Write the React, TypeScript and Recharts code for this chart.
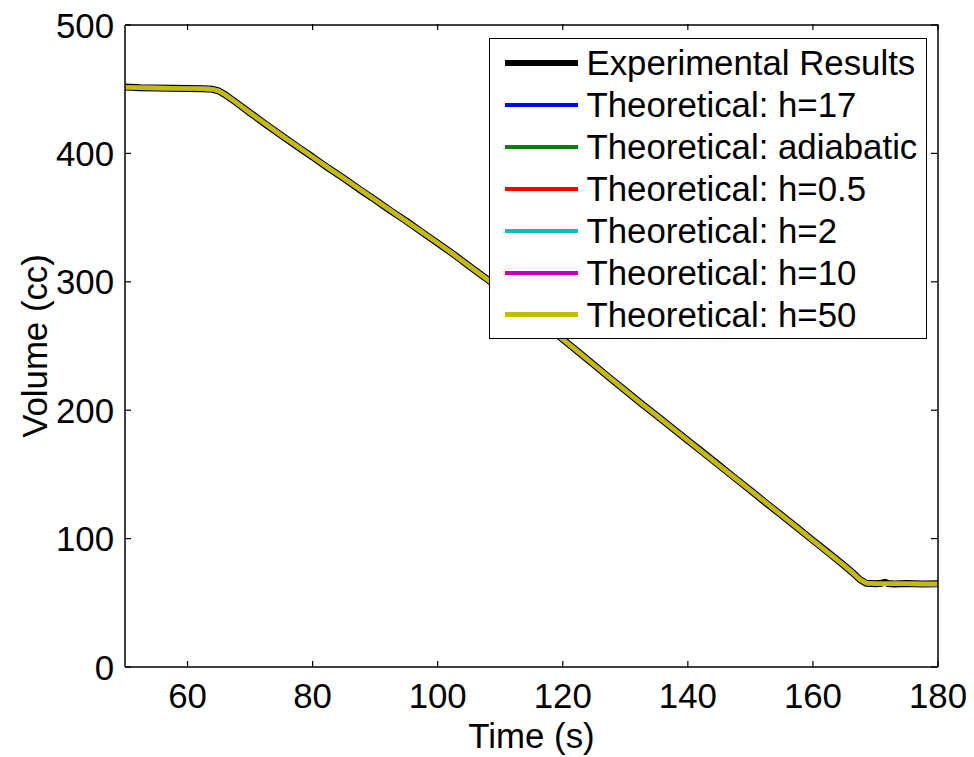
import { Legend, Line, LineChart, XAxis, YAxis } from "recharts";

const FONT = "'Liberation Sans', Arial, Helvetica, sans-serif";
const FONT_SIZE = 34.8;

// time axis (s)
const time = [
  50, 52.5, 55, 57.5, 60, 62.5, 64, 65, 66, 67.5, 70, 72.5, 75, 77.5, 80, 82.5,
  85, 87.5, 90, 92.5, 95, 97.5, 100, 102.5, 105, 107.5, 110, 112.5, 115, 117.5,
  120, 122.5, 125, 127.5, 130, 132.5, 135, 137.5, 140, 142.5, 145, 147.5, 150,
  152.5, 155, 157.5, 160, 162.5, 165, 166.5, 167.5, 168.5, 170, 171, 171.5, 172,
  173, 175, 177.5, 180
];

// measured volume (cc)
const experimentalVolume = [
  451.8, 451.2, 451.0, 450.8, 450.6, 450.3, 449.9, 448.6, 445.8, 440.6, 431.6,
  422.6, 414.0, 405.4, 397.2, 388.6, 380.5, 371.9, 363.8, 355.2, 347.3, 338.6,
  330.2, 321.6, 312.4, 303.5, 294.1, 284.6, 274.8, 265.1, 255.2, 245.4, 235.3,
  225.2, 215.3, 205.4, 195.8, 186.1, 176.4, 166.8, 157.1, 147.3, 137.6, 127.8,
  118.1, 108.4, 98.6, 88.9, 79.0, 72.8, 68.2, 65.3, 64.8, 65.3, 66.0, 65.0,
  64.7, 65.0, 64.6, 64.8
];

// all theoretical curves sit on top of each other at this scale
const theoreticalVolume = [
  451.5, 451.2, 451.0, 450.8, 450.6, 450.3, 449.9, 448.6, 445.8, 440.6, 431.6,
  422.8, 414.1, 405.6, 397.2, 388.8, 380.5, 372.1, 363.8, 355.5, 347.1, 338.7,
  330.2, 321.5, 312.4, 303.4, 294.1, 284.5, 274.8, 265.0, 255.2, 245.3, 235.3,
  225.3, 215.3, 205.5, 195.8, 186.1, 176.4, 166.7, 157.0, 147.3, 137.6, 127.9,
  118.1, 108.4, 98.6, 88.8, 79.0, 72.8, 68.2, 65.4, 64.9, 64.9, 64.9, 64.8,
  64.8, 64.8, 64.7, 64.7
];

const xTicks = [60, 80, 100, 120, 140, 160, 180];
const yTicks = [0, 100, 200, 300, 400, 500];

const series = [
  { key: "experimental", name: "Experimental Results", color: "#000000", width: 7, legendWidth: 6 },
  { key: "h17", name: "Theoretical: h=17", color: "#0000ff", width: 4.5, legendWidth: 4 },
  { key: "adiabatic", name: "Theoretical: adiabatic", color: "#008000", width: 4.5, legendWidth: 4 },
  { key: "h05", name: "Theoretical: h=0.5", color: "#ff0000", width: 4.5, legendWidth: 4 },
  { key: "h2", name: "Theoretical: h=2", color: "#00bfbf", width: 4.5, legendWidth: 4 },
  { key: "h10", name: "Theoretical: h=10", color: "#bf00bf", width: 4.5, legendWidth: 4 },
  { key: "h50", name: "Theoretical: h=50", color: "#bfbf00", width: 4.5, legendWidth: 4.5 }
];

const data = time.map((t, i) => ({
  time: t,
  experimental: experimentalVolume[i],
  h17: theoreticalVolume[i],
  adiabatic: theoreticalVolume[i],
  h05: theoreticalVolume[i],
  h2: theoreticalVolume[i],
  h10: theoreticalVolume[i],
  h50: theoreticalVolume[i]
}));

const TICK_LEN = 6;
const X_TICK_MARGIN = 28;
const Y_TICK_MARGIN = 11;

function BottomTick({ x, y, payload }: any) {
  const axisY = y - X_TICK_MARGIN;
  return (
    <g>
      <line x1={x} x2={x} y1={axisY} y2={axisY - TICK_LEN} stroke="#000" strokeWidth={1.2} />
      <text x={x} y={y} textAnchor="middle" dominantBaseline="central" fontSize={FONT_SIZE} fontFamily={FONT} fill="#000">
        {payload.value}
      </text>
    </g>
  );
}

function LeftTick({ x, y, payload }: any) {
  const axisX = x + Y_TICK_MARGIN;
  return (
    <g>
      <line x1={axisX} x2={axisX + TICK_LEN} y1={y} y2={y} stroke="#000" strokeWidth={1.2} />
      <text x={x} y={y} textAnchor="end" dominantBaseline="central" fontSize={FONT_SIZE} fontFamily={FONT} fill="#000">
        {payload.value}
      </text>
    </g>
  );
}

// top and right axes only carry the box edge and inward ticks
function TopTick({ x, y }: any) {
  return <line x1={x} x2={x} y1={y - 1} y2={y - 1 + TICK_LEN} stroke="#000" strokeWidth={1.2} />;
}

function RightTick({ x, y }: any) {
  return <line x1={x - 1} x2={x - 1 - TICK_LEN} y1={y} y2={y} stroke="#000" strokeWidth={1.2} />;
}

function XTitle({ viewBox }: any) {
  const cx = viewBox.x + viewBox.width / 2;
  return (
    <text x={cx} y={viewBox.y + 68} textAnchor="middle" dominantBaseline="central" fontSize={FONT_SIZE} fontFamily={FONT} fill="#000">
      Time (s)
    </text>
  );
}

function YTitle({ viewBox }: any) {
  const cx = 34;
  const cy = viewBox.y + viewBox.height / 2;
  return (
    <text x={cx} y={cy} transform={`rotate(-90, ${cx}, ${cy})`} textAnchor="middle" dominantBaseline="central" fontSize={FONT_SIZE} fontFamily={FONT} fill="#000">
      Volume (cc)
    </text>
  );
}

function LegendBox() {
  return (
    <div
      style={{
        boxSizing: "border-box",
        width: 438,
        height: 301,
        border: "1.5px solid #000",
        background: "#fff",
        paddingTop: 2.5,
        fontFamily: FONT,
        fontSize: FONT_SIZE,
        color: "#000"
      }}
    >
      {series.map((s) => (
        <div key={s.key} style={{ height: 42, display: "flex", alignItems: "center" }}>
          <div style={{ marginLeft: 14.5, width: 73, height: s.legendWidth, background: s.color }} />
          <span style={{ marginLeft: 9, lineHeight: "42px", whiteSpace: "nowrap" }}>{s.name}</span>
        </div>
      ))}
    </div>
  );
}

export default function App() {
  return (
    <div style={{ position: "fixed", left: 0, top: 0, width: 974, height: 757, background: "#fff" }}>
      <LineChart
        width={974}
        height={757}
        data={data}
        margin={{ top: 24, right: 35, bottom: 0, left: 0 }}
        style={{ fontFamily: FONT }}
      >
        <XAxis
          dataKey="time"
          type="number"
          domain={[50, 180]}
          ticks={xTicks}
          allowDataOverflow
          height={90}
          axisLine={{ stroke: "#000", strokeWidth: 1.5 }}
          tickLine={false}
          tickSize={0}
          tickMargin={X_TICK_MARGIN}
          tick={<BottomTick />}
          interval={0}
          label={<XTitle />}
        />
        <XAxis
          xAxisId="top"
          orientation="top"
          dataKey="time"
          type="number"
          domain={[50, 180]}
          ticks={xTicks}
          allowDataOverflow
          height={1}
          axisLine={{ stroke: "#000", strokeWidth: 1.5 }}
          tickLine={false}
          tickSize={0}
          tickMargin={0}
          tick={<TopTick />}
          interval={0}
        />
        <YAxis
          type="number"
          domain={[0, 500]}
          ticks={yTicks}
          allowDataOverflow
          width={125}
          axisLine={{ stroke: "#000", strokeWidth: 1.5 }}
          tickLine={false}
          tickSize={0}
          tickMargin={Y_TICK_MARGIN}
          tick={<LeftTick />}
          interval={0}
          label={<YTitle />}
        />
        <YAxis
          yAxisId="right"
          orientation="right"
          type="number"
          domain={[0, 500]}
          ticks={yTicks}
          allowDataOverflow
          width={1}
          axisLine={{ stroke: "#000", strokeWidth: 1.5 }}
          tickLine={false}
          tickSize={0}
          tickMargin={0}
          tick={<RightTick />}
          interval={0}
        />
        {series.map((s) => (
          <Line
            key={s.key}
            type="linear"
            dataKey={s.key}
            name={s.name}
            stroke={s.color}
            strokeWidth={s.width}
            strokeLinejoin="round"
            strokeLinecap="round"
            dot={false}
            activeDot={false}
            isAnimationActive={false}
          />
        ))}
        <Legend
          layout="vertical"
          align="center"
          verticalAlign="middle"
          wrapperStyle={{ left: 489, top: 38, width: 438, height: 301 }}
          content={<LegendBox />}
        />
      </LineChart>
    </div>
  );
}
